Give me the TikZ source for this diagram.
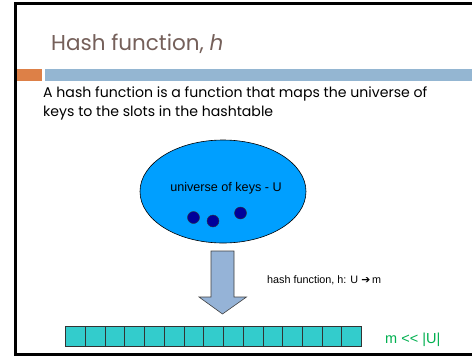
\documentclass[tikz,border=0pt]{standalone}
\usepackage{fontspec}
\setmainfont{Poppins}
\setsansfont{Liberation Sans}
\newfontfamily\symfont{DejaVu Sans}
\usetikzlibrary{shapes.geometric,shapes.arrows}
\definecolor{titlec}{HTML}{75605A}
\definecolor{orangebar}{HTML}{DD8047}
\definecolor{bluebar}{HTML}{94B6D2}
\definecolor{ellc}{HTML}{009FFF}
\definecolor{dotc}{HTML}{000099}
\definecolor{arrc}{HTML}{95B3D7}
\definecolor{cellc}{HTML}{33CCCC}
\definecolor{greenc}{HTML}{00B050}
\tikzset{
  cell/.style={draw=black!80, fill=cellc, line width=0.6pt, minimum width=19.73pt, minimum height=20pt, inner sep=0pt, outer sep=0pt},
  keydot/.style={circle, draw=black!80, fill=dotc, minimum size=12pt, inner sep=0pt},
  bodytext/.style={anchor=base west, inner sep=0pt, font=\fontsize{14.1}{16}\selectfont},
}
\begin{document}
\begin{tikzpicture}[x=1pt,y=-1pt]
\useasboundingbox (0,0) rectangle (472,357);
\fill[white] (0,0) rectangle (472,357);
% frame
\draw[line width=2.2pt] (473,3.5) -- (15.5,3.5) -- (15.5,354.5) -- (473,354.5);
% bars
\fill[orangebar] (16.5,69) rectangle (42,80.5);
\fill[bluebar] (45,69) rectangle (472,80.5);
% title
\node[anchor=base west, inner sep=0pt, text=titlec, font=\fontsize{21.5}{24}\selectfont] (title) at (51,50) {Hash function, \textit{h}};
% body
\node[bodytext] (l1) at (43,97.5) {A hash function is a function that maps the universe of};
\node[bodytext] (l2) at (43,116) {keys to the slots in the hashtable};
% ellipse
\node[ellipse, draw=black, fill=ellc, line width=0.6pt, minimum width=166pt, minimum height=103pt, inner sep=0pt] (U) at (223,191.5) {};
\node[anchor=base, font=\sffamily\fontsize{12.6}{14}\selectfont, inner sep=0pt] (ulabel) at (226,191.5) {universe of keys - U};
\node[keydot] (k1) at (193.5,217.5) {};
\node[keydot] (k2) at (213,221) {};
\node[keydot] (k3) at (240.5,213) {};
% block arrow
\draw[draw=black!75, fill=arrc, line width=0.6pt] (211,251) -- (234,251) -- (234,297) -- (246.5,297) -- (222.5,314) -- (199,297) -- (211,297) -- cycle;
\node[anchor=base west, font=\sffamily\fontsize{10.8}{12}\selectfont, inner sep=0pt] (hlabel) at (267,283) {hash function, h: U {\symfont\bfseries ➔}\,m};
% array
\foreach \i in {0,...,14} {
  \node[cell, anchor=north west] (c\i) at ({65.5+19.73*\i},326) {};
}
\node[anchor=base west, text=greenc, font=\sffamily\fontsize{14.5}{16}\selectfont, inner sep=0pt] (mu) at (385,343) {m {<}{<} |U|};
\end{tikzpicture}
\end{document}
